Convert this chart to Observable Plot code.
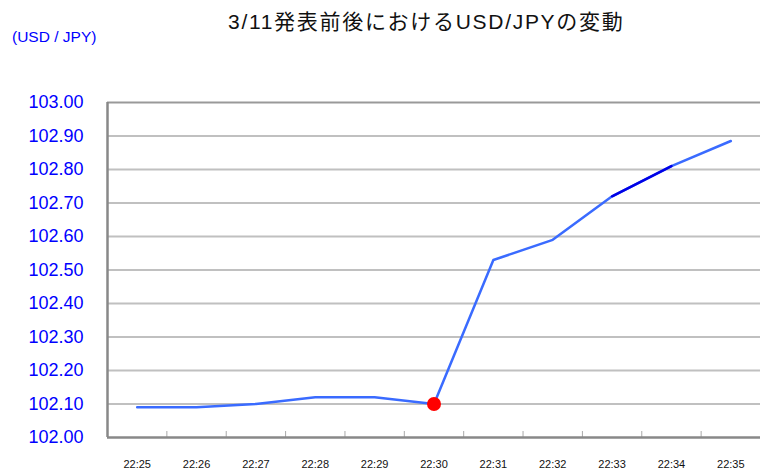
<!DOCTYPE html>
<html><head><meta charset="utf-8">
<script src="https://cdn.jsdelivr.net/npm/d3@7"></script>
<script src="https://cdn.jsdelivr.net/npm/@observablehq/plot@0.6"></script>
<style>
body{margin:0;background:#fff;font-family:"Liberation Sans",Arial,"Noto Sans CJK JP",sans-serif;}
#wrap{position:relative;width:760px;height:469px;overflow:hidden;background:#fff}
#head{position:relative;height:60px}
#title{position:absolute;left:228px;top:11px;font-size:21px;line-height:21px;color:#111;white-space:nowrap;letter-spacing:1.7px}
#unit{position:absolute;left:12px;top:29px;font-size:15.5px;line-height:15px;color:#0000ff;white-space:nowrap}
#chart svg{display:block}
</style></head>
<body>
<div id="wrap">
  <div id="head">
    <div id="title">3/11発表前後におけるUSD/JPYの変動</div>
    <div id="unit">(USD / JPY)</div>
  </div>
  <div id="chart"></div>
</div>
<script>
const times = ["22:25","22:26","22:27","22:28","22:29","22:30","22:31","22:32","22:33","22:34","22:35"];
const rates = [102.09,102.09,102.10,102.12,102.12,102.10,102.53,102.59,102.72,102.81,102.885];
const yTicks = [102.00,102.10,102.20,102.30,102.40,102.50,102.60,102.70,102.80,102.90,103.00];
const markedTime = "22:30";
const darkFrom = "22:33", darkTo = "22:34";

const data = times.map((t, i) => ({i, t, v: rates[i]}));
const idx = times.map((t, i) => i);
const boundaries = idx.slice(1).map(i => i - 0.5);
const iFrom = times.indexOf(darkFrom), iTo = times.indexOf(darkTo);

const chart = Plot.plot({
  width: 760, height: 409,
  marginTop: 42, marginBottom: 32, marginLeft: 107, marginRight: 0,
  style: {fontFamily: '"Liberation Sans", Arial, sans-serif', background: "#fff"},
  x: {type: "linear", domain: [-0.5, times.length - 0.5], axis: null},
  y: {domain: [yTicks[0], yTicks[yTicks.length - 1]], axis: null},
  marks: [
    Plot.gridY(yTicks.slice(1, -1), {stroke: "#c0c0c0", strokeOpacity: 1, strokeWidth: 2}),
    Plot.ruleY([yTicks[yTicks.length - 1]], {stroke: "#999", strokeWidth: 2}),
    Plot.axisX(boundaries, {tickSize: -6, tickFormat: () => "", stroke: "#aaa", strokeWidth: 1, label: null}),
    Plot.ruleY([yTicks[0]], {stroke: "#888", strokeWidth: 2.5}),
    Plot.ruleX([-0.5], {stroke: "#888", strokeWidth: 2.5}),
    Plot.axisY(yTicks, {tickSize: 0, tickPadding: 24, tickFormat: d => d.toFixed(2), fill: "#0000ff", fontSize: 18, label: null}),
    Plot.axisX(idx, {tickSize: 0, tickPadding: 23, tickFormat: i => times[i], fill: "#111", fontSize: 11, label: null, style: {letterSpacing: "0.8px"}}),
    Plot.line(data, {x: "i", y: "v", stroke: "#3a6bff", strokeWidth: 2.5}),
    Plot.line(data.filter(d => d.i >= iFrom && d.i <= iTo), {x: "i", y: "v", stroke: "#0000e6", strokeWidth: 2.5}),
    Plot.dot(data.filter(d => d.t === markedTime), {x: "i", y: "v", r: 7, fill: "#ff0000", stroke: "none"})
  ]
});
document.getElementById("chart").appendChild(chart);
</script>
</body></html>
